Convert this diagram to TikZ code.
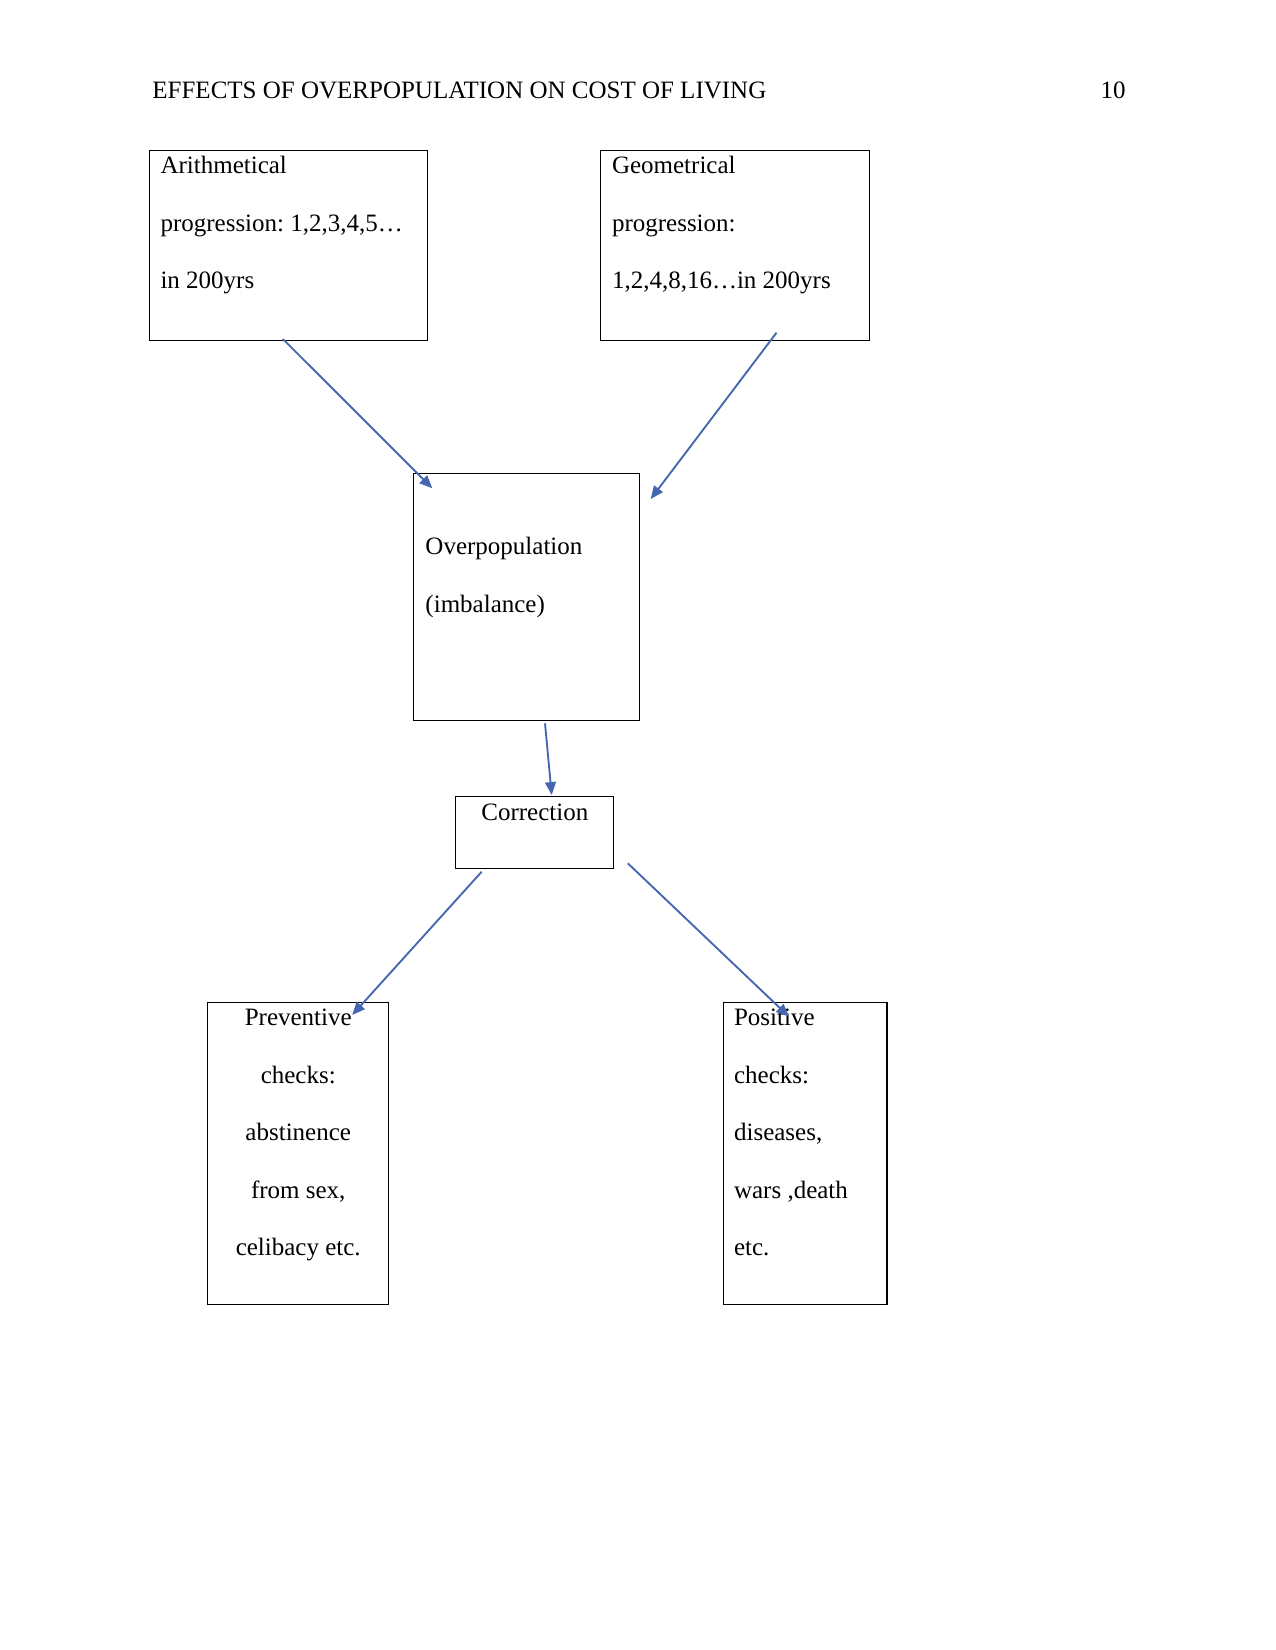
\documentclass[tikz,border=0pt]{standalone}
\usepackage{fontspec}
\setmainfont{Liberation Serif}
\usetikzlibrary{arrows.meta}
\definecolor{arrowblue}{HTML}{4766B2}
\frenchspacing
\begin{document}
\begin{tikzpicture}[x=0.48pt,y=-0.48pt,
  every node/.style={font=\fontsize{12}{27.6}\selectfont\frenchspacing, inner sep=0pt},
  box/.style={draw=black, line width=0.5pt, anchor=north west, inner ysep=0pt},
  conn/.style={draw=arrowblue, line width=0.9pt, -{Triangle[length=6.2pt,width=5.2pt]}}
]
\path[use as bounding box, fill=white] (0,0) rectangle (1275,1650);

% header
\node[anchor=base west] (title) at (152,98.5) {EFFECTS OF OVERPOPULATION ON COST OF LIVING};
\node[anchor=base east] (pgnum) at (1126,98.5) {10};

% boxes
\node[box, align=flush left, inner xsep=5.1pt, text width=123.1pt,
      text height=11.1pt, text depth=79.9pt] (arith) at (149.4,150.3)
  {Arithmetical\\ progression: 1,2,3,4,5…\\ in 200yrs};
\node[box, align=flush left, inner xsep=5.66pt, text width=117.8pt,
      text height=11.1pt, text depth=79.9pt] (geo) at (599.7,150.3)
  {Geometrical\\ progression:\\ 1,2,4,8,16…in 200yrs};
\node[box, align=flush left, inner xsep=5.6pt, text width=97pt,
      text height=38.9pt, text depth=79.5pt] (over) at (413.3,473.3)
  {Overpopulation\\ (imbalance)};
\node[box, align=flush center, inner xsep=0pt, text width=75.8pt,
      text height=11.4pt, text depth=23.2pt] (corr) at (455.3,796.2)
  {Correction};
\node[box, align=flush center, inner xsep=0pt, text width=86.9pt,
      text height=11.3pt, text depth=133.9pt] (prev) at (207.2,1001.5)
  {Preventive\\ checks:\\ abstinence\\ from sex,\\ celibacy etc.};
\node[box, align=flush left, inner xsep=5.3pt, text width=68.1pt,
      text height=11.3pt, text depth=133.9pt] (pos) at (722.5,1001.5)
  {Positive\\ checks:\\ diseases,\\ wars ,death\\ etc.};

% connector end points
\coordinate (a1s) at (282.9,339);
\coordinate (a1e) at (432.3,488.3);
\coordinate (a2s) at (776.5,332.7);
\coordinate (a2e) at (650.7,499);
\coordinate (a3s) at (545,723.3);
\coordinate (a3e) at (551.7,795);
\coordinate (a4s) at (481.7,871.7);
\coordinate (a4e) at (352.2,1015);
\coordinate (a5s) at (627.8,863.3);
\coordinate (a5e) at (789,1016.7);

\draw[conn] (a1s) -- (a1e);
\draw[conn] (a2s) -- (a2e);
\draw[conn] (a3s) -- (a3e);
\draw[conn] (a4s) -- (a4e);
\draw[conn] (a5s) -- (a5e);
\end{tikzpicture}
\end{document}
